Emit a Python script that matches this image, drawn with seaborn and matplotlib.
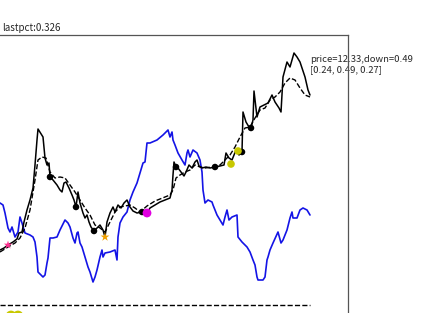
import matplotlib
matplotlib.use("Agg")
import matplotlib.pyplot as plt
import seaborn as sns
import pandas as pd

# ---- data (levels) ----
price_t = [0,4,8,13,17,19,22,24,27,30,33,35,37,38,43,45,47,49,50,53,57,60,62,64,66,69,72,74,76,78,
           80,83,85,87,89,91,94,97,100,103,105,107,110,113,115,118,121,124,127,130,133,137,142,147,150,
           155,160,165,170,172,173,174,176,178,181,184,186,189,192,195,197,199,202,206,210,215,220,224,
           226,229,232,236,239,242,243,246,249,251,253,254,257,260,264,268,272,275,279,281,283,287,290,
           294,297,300,305,308,310]
price = [63,65,68,71,74,80,81,91,103,113,125,148,173,184,176,155,148,150,136,133,128,123,121,130,131,125,
         118,113,106,121,110,100,95,98,91,86,82,85,88,83,76,91,100,106,101,108,105,110,113,106,102,100,101,
         100,105,108,111,113,115,123,138,151,146,145,141,137,141,148,145,151,153,147,145,146,145,146,147,
         148,160,155,153,163,158,161,201,191,186,185,193,222,196,206,208,210,218,211,205,201,236,251,246,
         260,256,251,236,223,218]

ma_t = [0,8,15,20,25,30,35,38,42,46,50,55,60,65,70,75,80,85,90,95,100,105,110,115,120,125,130,135,140,147,
        155,165,170,173,176,180,185,190,195,200,205,212,220,225,230,235,240,245,250,255,260,265,270,275,280,
        285,290,295,300,305,310]
ma = [61,66,70,75,85,103,133,153,156,155,141,135,136,135,128,121,113,105,98,88,85,81,91,101,106,107,108,105,
      101,107,112,116,118,123,135,138,141,143,148,146,145,146,148,153,158,166,176,185,186,195,203,205,213,216,
      221,230,235,233,225,218,216]

ind_t = [0,3,5,8,10,12,15,18,20,22,25,30,33,35,37,38,43,45,47,48,50,53,57,60,65,68,70,73,75,77,78,80,82,85,
         88,90,93,95,97,100,102,103,105,110,115,117,118,120,123,127,130,133,137,140,143,145,147,150,157,163,
         168,170,172,173,175,178,182,185,187,188,190,193,197,200,202,203,205,208,212,213,217,220,223,225,227,
         229,232,237,238,242,247,250,253,255,257,258,263,265,267,268,270,273,278,281,283,287,290,292,293,297,
         300,303,307,310]
ind = [110,108,100,85,81,86,76,81,96,90,80,78,76,71,56,41,36,38,50,55,75,75,76,83,93,90,86,75,70,80,81,70,66,
       56,46,41,31,36,43,56,63,56,60,61,63,53,76,90,96,101,113,121,130,140,150,151,170,170,173,178,183,176,
       181,173,168,160,153,148,160,163,156,163,160,153,141,123,110,113,111,108,98,93,88,96,103,93,96,98,76,71,
       66,61,53,48,36,33,33,36,53,56,63,70,81,70,73,83,95,101,95,95,103,105,103,98]

dot_t = [50,76,94,142,176,215,242,251]
dot_v = [136,106,82,101,146,146,161,185]
yellow_t = [231,238]
yellow_v = [149,162]
base_t = [0,310]
base_v = [8,8]
low_t = [11,18]
low_v = [-3,-3]

title_txt = "lastpct:0.326"
info_txt = "price=12.33,down=0.49\n[0.24, 0.49, 0.27]"

sns.set_style("white")
plt.rcParams['font.family'] = ['Noto Sans CJK SC', 'DejaVu Sans']

fig = plt.figure(figsize=(4.26, 3.13), dpi=100)
W, H = 426, 313
ax = fig.add_axes([-10 / W, -17 / H, 358 / W, 295 / H])

sns.lineplot(x=ind_t, y=ind, ax=ax, color="#1414e6", lw=1.2, sort=False, estimator=None)
sns.lineplot(x=ma_t, y=ma, ax=ax, color="black", lw=1.0, ls="--", sort=False, estimator=None)
sns.lineplot(x=price_t, y=price, ax=ax, color="black", lw=1.1, sort=False, estimator=None)
sns.lineplot(x=base_t, y=base_v, ax=ax, color="black", lw=1.0, ls="--", sort=False, estimator=None)

sns.scatterplot(x=dot_t, y=dot_v, ax=ax, color="black", s=22, edgecolor="none", zorder=4)
sns.scatterplot(x=yellow_t, y=yellow_v, ax=ax, color="#c8c800", s=30, edgecolor="none", zorder=4)
sns.scatterplot(x=low_t, y=low_v, ax=ax, color="#c8c800", s=60, edgecolor="none", zorder=4)
sns.scatterplot(x=[147], y=[100], ax=ax, color="#e000e0", s=40, edgecolor="none", zorder=4)
sns.scatterplot(x=[105], y=[76], ax=ax, color="#f0a000", marker="*", s=45, edgecolor="none", zorder=4)
sns.scatterplot(x=[8], y=[68], ax=ax, color="#ff3090", marker="*", s=40, edgecolor="none", zorder=4)

ax.set_xlim(-10, 348)
ax.set_ylim(-17, 278)
ax.set_xticks([])
ax.set_yticks([])
ax.set_xlabel("")
ax.set_ylabel("")
for s in ax.spines.values():
    s.set_color("#555555")
    s.set_linewidth(0.9)
    s.set_visible(True)

ax.text(310, 258, info_txt, fontsize=6.8, ha="left", va="top", zorder=1,
        linespacing=1.15, clip_on=False)
fig.text(2 / W, 1 - 28 / H, title_txt, fontsize=7, ha="left", va="center")

fig.savefig("out.png", dpi=100)
